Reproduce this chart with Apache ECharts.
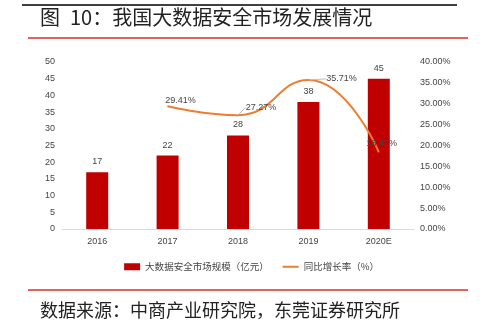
<!DOCTYPE html>
<html><head><meta charset="utf-8">
<script src="https://cdn.jsdelivr.net/npm/echarts@6/dist/echarts.min.js"></script>
<style>html,body{margin:0;padding:0;background:#fff;}#c{width:503px;height:331px;}</style>
</head><body><div id="c"></div>
<script>
var categories = ['2016','2017','2018','2019','2020E'];
var marketSize = [17, 22, 28, 38, 45];
var growthRate = [null, 29.41, 27.27, 35.71, 18.42];
var leftTicks = [0, 50, 5];
var rightTicks = [0, 40, 5];
var titleText = '图\u200210：我国大数据安全市场发展情况';
var sourceText = '数据来源：中商产业研究院，东莞证券研究所';
var seriesNames = ['大数据安全市场规模（亿元）', '同比增长率（%）'];

var font = '"Noto Sans CJK SC", "Noto Sans", sans-serif';
var chart = echarts.init(document.getElementById('c'));
var labelOffsets = [null, [13, -6], [23, -8], [33, -1], [3, -9]];
var leaders = [false, false, true, true, false];
var lineData = growthRate.map(function(v, i){
  return {value: v, labelLine: {show: leaders[i]}};
});
chart.setOption({
  animation: false,
  graphic: [
    {type:'line', shape:{x1:22,y1:5,x2:457,y2:5}, style:{stroke:'#000',lineWidth:1.5}},
    {type:'text', left:40, top:7, style:{text:titleText, font:'20px ' + font, fill:'#222'}},
    {type:'line', shape:{x1:28,y1:38,x2:468,y2:38}, style:{stroke:'#d9312b',lineWidth:1.5}},
    {type:'line', shape:{x1:28,y1:290,x2:468,y2:290}, style:{stroke:'#d9312b',lineWidth:1.5}},
    {type:'text', left:40, top:301, style:{text:sourceText, font:'18px ' + font, fill:'#222'}}
  ],
  grid: {left:62, right:89, top:62, bottom:102},
  legend: {
    top: 257, left: 'center', itemGap: 14, itemWidth: 16, itemHeight: 7,
    textStyle: {fontSize: 9.5, color: '#444', fontFamily: font},
    data: [{name: seriesNames[0], icon: 'rect'},
           {name: seriesNames[1], icon: 'path://M0,0 L16,0 L16,2 L0,2 Z', itemStyle:{color:'#ED7D31', opacity:1}}]
  },
  xAxis: {
    type: 'category', data: categories,
    axisLine: {lineStyle: {color: '#d9d9d9'}},
    axisTick: {show: false},
    axisLabel: {color: '#444', fontSize: 9, margin: 8}
  },
  yAxis: [
    {type:'value', min:leftTicks[0], max:leftTicks[1], interval:leftTicks[2],
     axisLine:{show:false}, axisTick:{show:false}, splitLine:{show:false},
     axisLabel:{color:'#444', fontSize:9, margin:7}},
    {type:'value', min:rightTicks[0], max:rightTicks[1], interval:rightTicks[2],
     axisLine:{show:false}, axisTick:{show:false}, splitLine:{show:false},
     axisLabel:{color:'#444', fontSize:9, margin:6, formatter: function(v){return v.toFixed(2)+'%';}}}
  ],
  series: [
    {name: seriesNames[0], type:'bar', data: marketSize, barWidth: 22,
     itemStyle:{color:'#C00000'},
     label:{show:true, position:'top', color:'#444', fontSize:9, distance:6}},
    {name: seriesNames[1], type:'line', yAxisIndex:1, smooth:0.5, data: lineData,
     symbol:'circle', symbolSize:1, showSymbol:true,
     lineStyle:{color:'#ED7D31', width:2}, itemStyle:{color:'#ED7D31', borderWidth:0},
     label:{show:true, position:'inside', color:'#444', fontSize:9,
       formatter: function(p){return p.value.toFixed(2)+'%';}},
     labelLine:{show:false, lineStyle:{color:'#bfbfbf', width:1}},
     labelLayout: function(params){
       var o = labelOffsets[params.dataIndex] || [0,0];
       return {dx: o[0], dy: o[1]};
     }
    }
  ]
});
</script></body></html>
